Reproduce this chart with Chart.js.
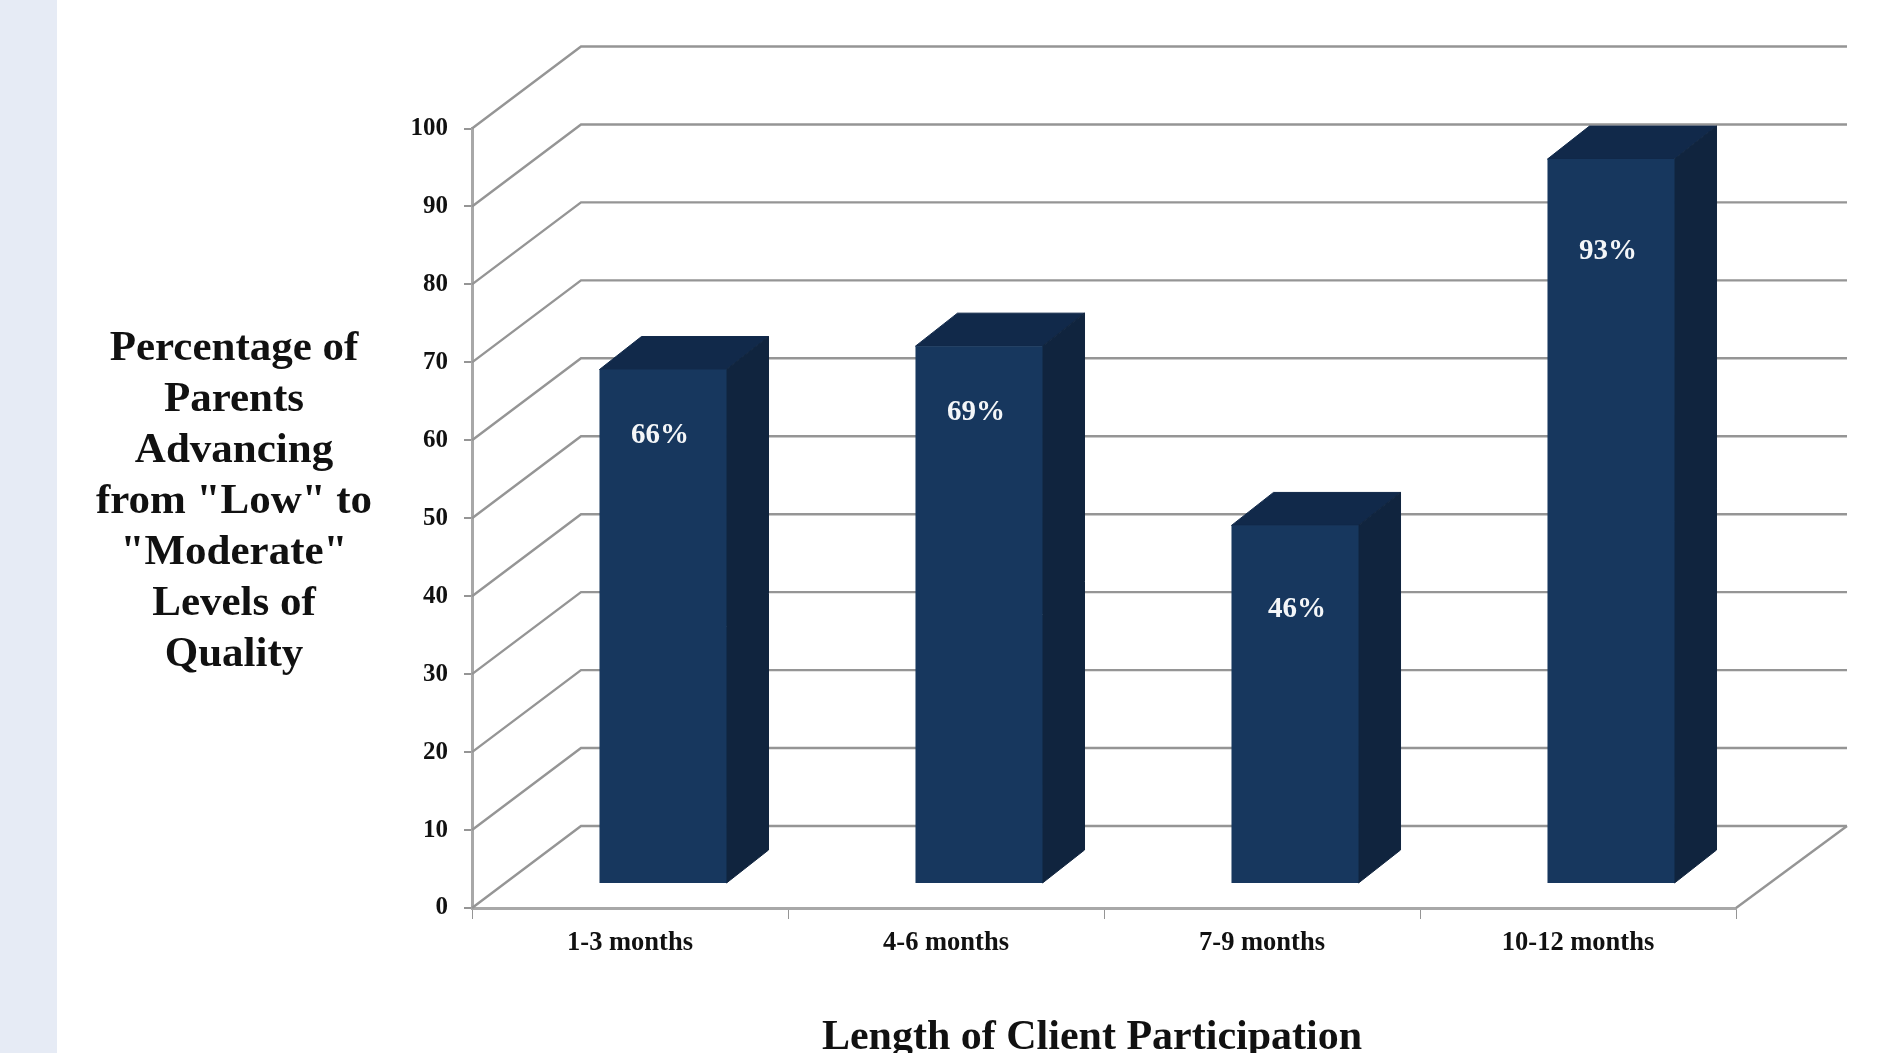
<!DOCTYPE html>
<html>
<head>
<meta charset="utf-8">
<title>Length of Client Participation</title>
<script src="https://cdn.jsdelivr.net/npm/chart.js@4"></script>
<style>
  html, body { margin: 0; padding: 0; background: #fff; overflow: hidden; }
  #band { position: absolute; left: 0; top: 0; width: 57px; height: 1053px; background: #e6ebf5; }
  #taskChart { position: absolute; left: 0; top: 0; }
</style>
</head>
<body>
<div id="band"></div>
<canvas id="taskChart" width="1889" height="1053"></canvas>
<script>
const categories = ["1-3 months", "4-6 months", "7-9 months", "10-12 months"];
const percentAdvancing = [66, 69, 46, 93];
const yAxisMin = 0;
const yAxisMax = 100;
const yAxisStep = 10;
const yTitleLines = ["Percentage of", "Parents", "Advancing", 'from "Low" to', '"Moderate"', "Levels of", "Quality"];
const xTitle = "Length of Client Participation";

// where the value label sits relative to the top centre of each bar, px
const labelDrop = [66, 66, 84, 92];
const labelShift = [-3, -3, 2, -3];

const serif = "'Liberation Serif', 'Times New Roman', serif";
const gridColor = "#959595";

// fake 3D: wall is pushed back by this much, bars stand part way in
const wall = { dx: 109, dy: -82 };
const bar = { dx: 33, dy: -24, sideDx: 42, sideDy: -33 };

function poly(ctx, pts, color) {
  ctx.fillStyle = color;
  ctx.strokeStyle = color;
  ctx.lineWidth = 1;
  ctx.beginPath();
  pts.forEach((p, i) => i ? ctx.lineTo(p[0], p[1]) : ctx.moveTo(p[0], p[1]));
  ctx.closePath();
  ctx.fill();
  ctx.stroke();
}

const fake3d = {
  id: "fake3d",
  beforeDatasetsDraw(chart) {
    const { ctx, chartArea: a, scales: { y } } = chart;
    ctx.save();
    ctx.strokeStyle = gridColor;
    ctx.lineWidth = 2.4;
    y.ticks.forEach(t => {
      const py = y.getPixelForValue(t.value);
      ctx.beginPath();
      ctx.moveTo(a.left, py);
      ctx.lineTo(a.left + wall.dx, py + wall.dy);
      ctx.lineTo(a.right + wall.dx + 2, py + wall.dy);
      ctx.stroke();
    });
    // right edge of the floor
    ctx.beginPath();
    ctx.moveTo(a.right, a.bottom);
    ctx.lineTo(a.right + wall.dx + 2, a.bottom + wall.dy);
    ctx.stroke();
    ctx.restore();

    // top and side faces, then the library draws the front shifted
    chart.getDatasetMeta(0).data.forEach(el => {
      const l = el.x - el.width / 2 + bar.dx, r = el.x + el.width / 2 + bar.dx;
      const t = el.y + bar.dy, b = el.base + bar.dy;
      poly(ctx, [[l, t], [r, t], [r + bar.sideDx, t + bar.sideDy], [l + bar.sideDx, t + bar.sideDy]], "#11294a");
      poly(ctx, [[r, t], [r + bar.sideDx, t + bar.sideDy], [r + bar.sideDx, b + bar.sideDy], [r, b]], "#10243e");
    });
    ctx.save();
    ctx.translate(bar.dx, bar.dy);
  },
  afterDatasetsDraw(chart) {
    const ctx = chart.ctx;
    ctx.restore();
    ctx.save();
    ctx.font = "bold 29px " + serif;
    ctx.fillStyle = "#f4f6f8";
    ctx.textAlign = "center";
    ctx.textBaseline = "middle";
    chart.getDatasetMeta(0).data.forEach((el, i) => {
      ctx.fillText(percentAdvancing[i] + "%", el.x + bar.dx + labelShift[i], el.y + bar.dy + labelDrop[i]);
    });
    ctx.restore();
  },
  afterDraw(chart) {
    const ctx = chart.ctx;
    ctx.save();
    ctx.fillStyle = "#111";
    ctx.textAlign = "center";
    ctx.textBaseline = "alphabetic";
    ctx.font = "bold 43px " + serif;
    yTitleLines.forEach((line, i) => ctx.fillText(line, 234, 360 + i * 51));
    ctx.font = "bold 42px " + serif;
    ctx.fillText(xTitle, 1092, 1049);
    ctx.restore();
  }
};

new Chart(document.getElementById("taskChart").getContext("2d"), {
  type: "bar",
  data: {
    labels: categories,
    datasets: [{
      data: percentAdvancing,
      backgroundColor: "#17375e",
      borderWidth: 0,
      barPercentage: 0.402,
      categoryPercentage: 1,
      clip: false
    }]
  },
  options: {
    responsive: false,
    animation: false,
    layout: { padding: { left: 0, top: 128.5, right: 153, bottom: 0 } },
    plugins: { legend: { display: false }, tooltip: { enabled: false } },
    scales: {
      x: {
        afterFit: s => { s.height = 145; },
        grid: { drawOnChartArea: false, color: gridColor, tickLength: 11, lineWidth: 1 },
        border: { color: "#a8a8a8", width: 3 },
        ticks: { color: "#111", padding: 8, maxRotation: 0, font: { family: serif, size: 26.5, weight: "bold" } }
      },
      y: {
        min: yAxisMin,
        max: yAxisMax,
        afterFit: s => { s.width = 472; },
        grid: { drawOnChartArea: false, color: gridColor, tickLength: 8, lineWidth: 2 },
        border: { color: "#a8a8a8", width: 3 },
        ticks: { stepSize: yAxisStep, color: "#111", padding: 16, font: { family: serif, size: 25, weight: "bold" } }
      }
    }
  },
  plugins: [fake3d]
});
</script>
</body>
</html>
